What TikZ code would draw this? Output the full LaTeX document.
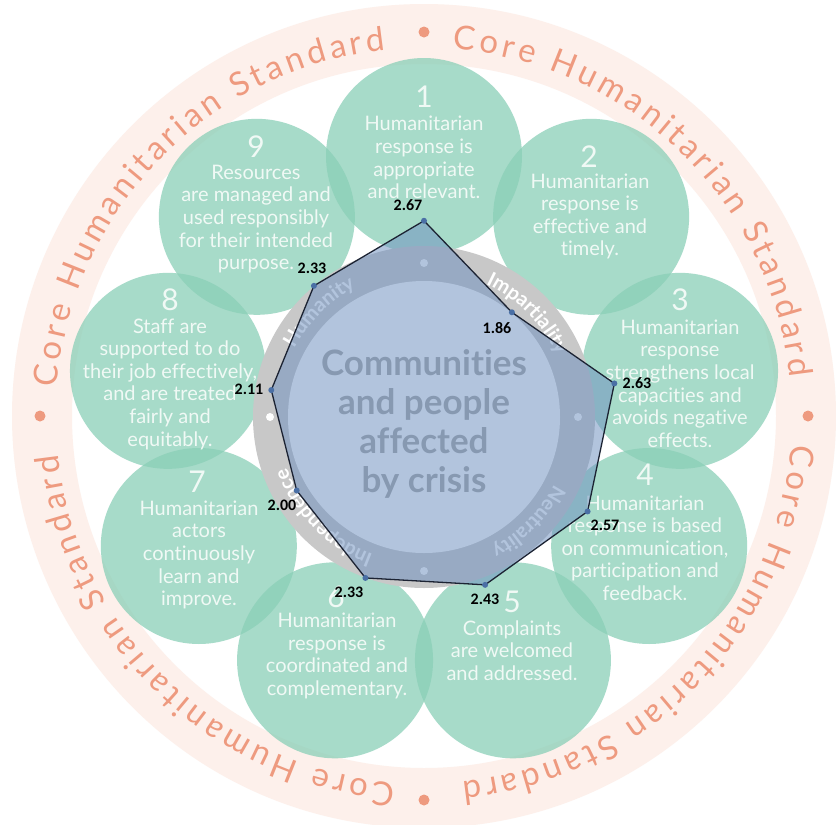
\documentclass[tikz,border=0pt]{standalone}
\usepackage{fontspec}
\usetikzlibrary{decorations.text}
\newfontfamily\lato{Lato}[Ligatures=NoCommon]
\newfontfamily\carl{Carlito}
\definecolor{band}{HTML}{FDF0EB}
\definecolor{ringtxt}{HTML}{EE9A7F}
\definecolor{cgreen}{RGB}{138,207,183}
\definecolor{ctext}{HTML}{F0F9F5}
\definecolor{gring}{HTML}{C8C8C8}
\definecolor{ctrtext}{HTML}{A2A2A2}
\definecolor{polyfill}{RGB}{111,145,192}
\definecolor{polyline}{HTML}{1C2333}
\definecolor{marker}{HTML}{4A6FA5}
\tikzset{
  numtxt/.style={font=\lato\fontsize{30}{36}\selectfont, text=ctext, inner sep=0pt},
  bodytxt/.style={font=\lato\fontsize{20}{22.6}\selectfont, text=ctext, align=center, inner sep=0pt},
  vallab/.style={font=\carl\bfseries\fontsize{16}{18}\selectfont, text=black, inner sep=0pt},
  ctrstyle/.style={font=\lato\bfseries\fontsize{35}{39}\selectfont, text=ctrtext, align=center, inner sep=0pt},
}
\begin{document}
\begin{tikzpicture}[x=1pt,y=1pt]
\useasboundingbox (0,0) rectangle (836,-825);
\clip (0,0) rectangle (836,-825);
\fill[white] (0,0) rectangle (836,-825);
\coordinate (C) at (424,-416);
\coordinate (R) at (424,-417);
% outer band
\fill[band, even odd rule] (C) circle[radius=412] (C) circle[radius=352];
\foreach \i in {0,1,2,3}{
  \path[decorate, decoration={text along path,
      text={|\lato\fontsize{33}{38}\selectfont|Core Humanitarian Standard},
      text color=ringtxt, text align={fit to path}}]
    ([shift={(C)}]{85.5-90*\i}:368) arc[start angle={85.5-90*\i}, end angle={6-90*\i}, radius=368];
}
\foreach \a in {90,0,-90,180}{
  \fill[ringtxt] ([shift={(C)}]\a:384) circle[radius=5.5];
}
% green circles
\foreach \k in {1,...,9}{
  \fill[cgreen, fill opacity=0.75] ({424+260*sin(40*(\k-1))},{-416+260*cos(40*(\k-1))}) circle[radius=98];
}
% circle texts
\node[numtxt] (n1) at (424,-97) {1};
\node[bodytxt] (t1) at (424,-157.5) {Humanitarian\\response is\\appropriate\\and relevant.};
\node[numtxt] (n2) at (589,-157) {2};
\node[bodytxt] (t2) at (590,-216.5) {Humanitarian\\response is\\effective and\\timely.};
\node[numtxt] (n3) at (680,-300) {3};
\node[bodytxt] (t3) at (680,-383.5) {Humanitarian\\response\\strengthens local\\capacities and\\avoids negative\\effects.};
\node[numtxt] (n4) at (645,-475) {4};
\node[bodytxt] (t4) at (645,-548) {Humanitarian\\response is based\\on communication,\\participation and\\feedback.};
\node[numtxt] (n5) at (512,-602) {5};
\node[bodytxt] (t5) at (512,-650.5) {Complaints\\are welcomed\\and addressed.};
\node[numtxt] (n6) at (336,-597) {6};
\node[bodytxt] (t6) at (337,-656) {Humanitarian\\response is\\coordinated and\\complementary.};
\node[numtxt] (n7) at (197,-482) {7};
\node[bodytxt] (t7) at (199,-555) {Humanitarian\\actors\\continuously\\learn and\\improve.};
\node[numtxt] (n8) at (170,-300) {8};
\node[bodytxt] (t8) at (170,-384) {Staff are\\supported to do\\their job effectively,\\and are treated\\fairly and\\equitably.};
\node[numtxt] (n9) at (256,-147) {9};
\node[bodytxt] (t9) at (256,-219) {Resources\\are managed and\\used responsibly\\for their intended\\purpose.};
% gray ring
\fill[gring] (R) circle[radius=171];
\fill[white] (R) circle[radius=136];
\foreach \w [count=\i from 0] in {Impartiality,Neutrality,Independence,Humanity}{
  \path[decorate, decoration={text along path,
      text={|\lato\bfseries\fontsize{20}{24}\selectfont|\w},
      text color=white, text align=center}]
    ([shift={(R)}]{85-90*\i}:146.5) arc[start angle={85-90*\i}, end angle={5-90*\i}, radius=146.5];
}
\foreach \a in {90,0,-90,180}{
  \fill[white] ([shift={(R)}]\a:154) circle[radius=4];
}
\node[ctrstyle] (ctr) at (424,-424) {Communities\\and people\\affected\\by crisis};
% radar polygon
\foreach \v [count=\k] in {2.67,1.86,2.63,2.57,2.43,2.33,2.00,2.11,2.33}{
  \coordinate (p\k) at ({424+73.5*\v*sin(40*(\k-1))},{-417+73.5*\v*cos(40*(\k-1))});
}
\fill[polyfill, fill opacity=0.53] (p1) -- (p2) -- (p3) -- (p4) -- (p5) -- (p6) -- (p7) -- (p8) -- (p9) -- cycle;
\draw[polyline, line width=1.3pt, line join=round] (p1) -- (p2) -- (p3) -- (p4) -- (p5) -- (p6) -- (p7) -- (p8) -- (p9) -- cycle;
\foreach \k in {1,...,9}{
  \fill[marker] (p\k) circle[radius=3];
}
\node[vallab] (l1) at (408,-205) {2.67};
\node[vallab] (l2) at (497,-328) {1.86};
\node[vallab] (l3) at (637,-383) {2.63};
\node[vallab] (l4) at (605,-525) {2.57};
\node[vallab] (l5) at (485,-599) {2.43};
\node[vallab] (l6) at (349,-592) {2.33};
\node[vallab] (l7) at (282,-505) {2.00};
\node[vallab] (l8) at (249,-389) {2.11};
\node[vallab] (l9) at (312,-268) {2.33};
\end{tikzpicture}
\end{document}
